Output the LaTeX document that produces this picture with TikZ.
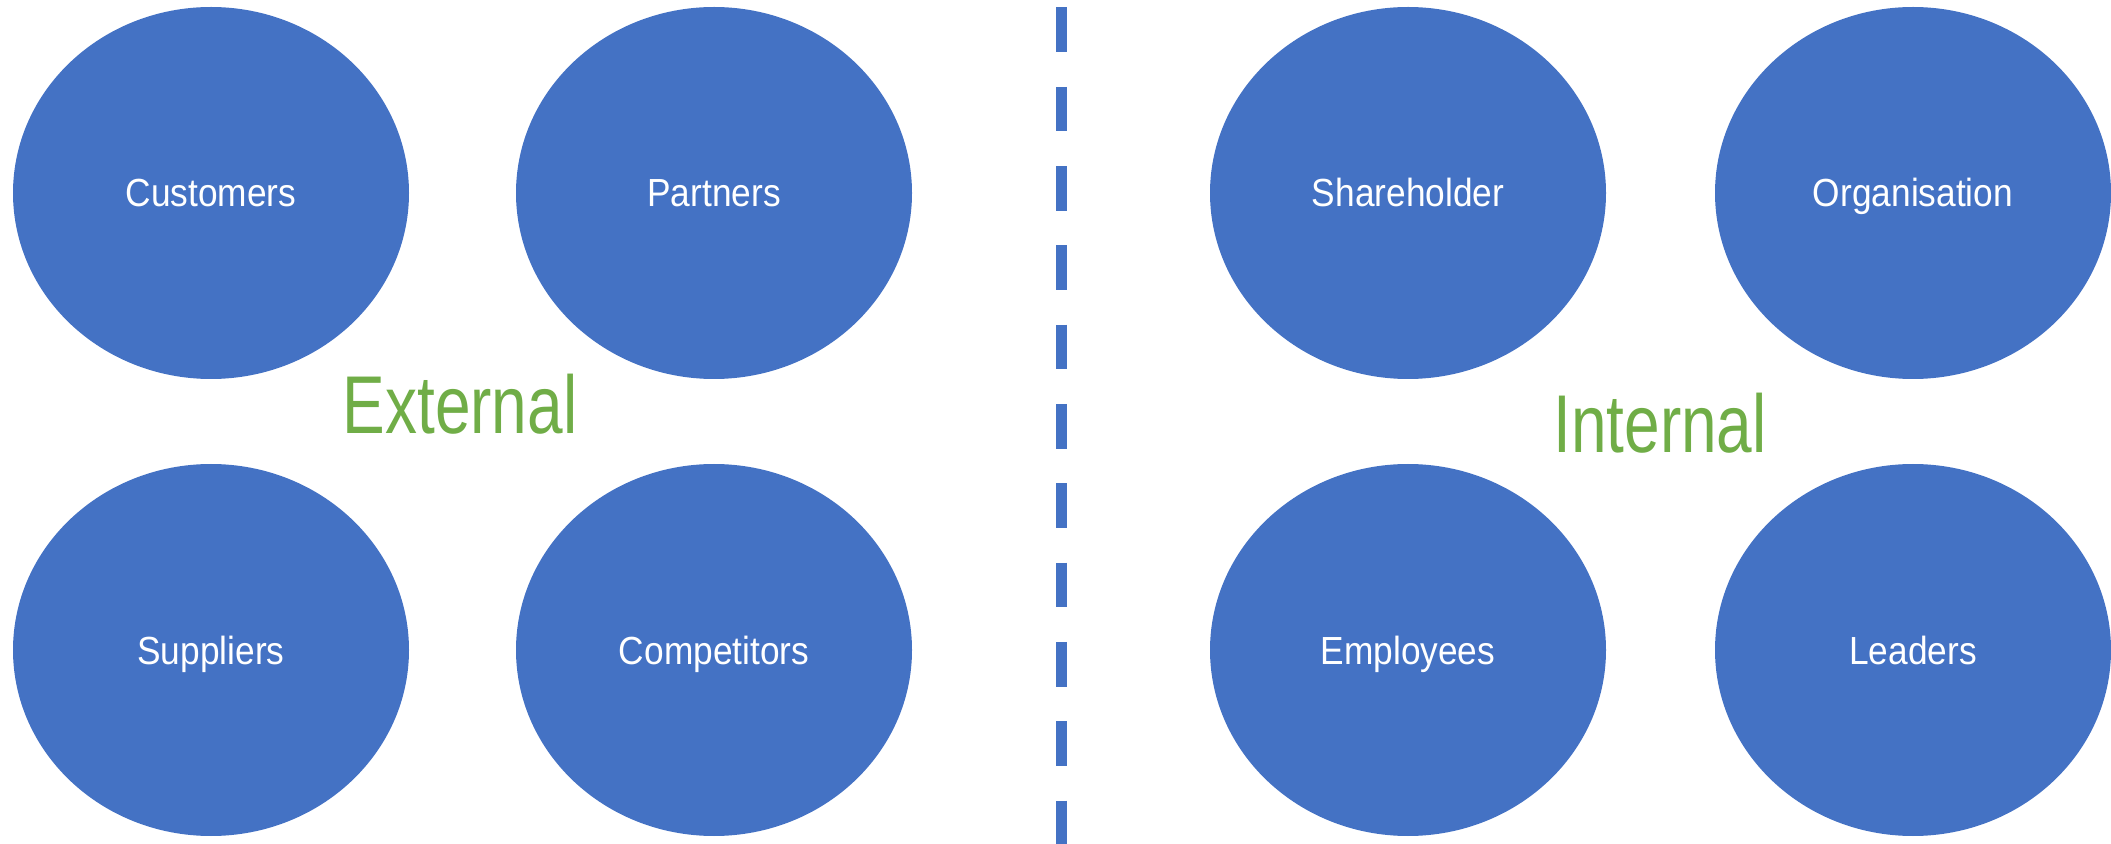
\documentclass[tikz,border=0pt]{standalone}
\usepackage{fontspec}
\setmainfont{Liberation Sans}
\newfontfamily\lblfont[FakeStretch=0.9]{Liberation Sans}
\newfontfamily\grpfont[FakeStretch=0.78]{Liberation Sans}
\usetikzlibrary{shapes.geometric}
\definecolor{bubbleblue}{HTML}{4472C4}
\definecolor{groupgreen}{HTML}{70AD47}
\tikzset{
  bubble/.style={ellipse,fill=bubbleblue,draw=none,inner sep=0pt,
    minimum width=198pt,minimum height=186pt,text=white,
    text height=18pt,text depth=4pt,
    font=\lblfont\fontsize{19.6}{22}\selectfont},
  group/.style={text=groupgreen,inner sep=0pt,anchor=base,
    font=\grpfont\fontsize{41}{44}\selectfont}
}
\begin{document}
\begin{tikzpicture}[x=0.5pt,y=-0.5pt]
  \useasboundingbox (0,0) rectangle (2111,844);
  % external side
  \node[bubble] (customers) at (211,193) {Customers};
  \node[bubble] (partners) at (714,193) {Partners};
  \node[bubble] (suppliers) at (211,650) {Suppliers};
  \node[bubble] (competitors) at (714,650) {Competitors};
  \node[group] (external) at (460,434) {External};
  % internal side
  \node[bubble] (shareholder) at (1408,193) {Shareholder};
  \node[bubble] (organisation) at (1913,193) {Organisation};
  \node[bubble] (employees) at (1408,650) {Employees};
  \node[bubble] (leaders) at (1913,650) {Leaders};
  \node[group] (internal) at (1660,453) {Internal};
  % divider
  \coordinate (divtop) at (1061.5,7.5);
  \coordinate (divbot) at (1061.5,844);
  \draw[bubbleblue,line width=5.5pt,dash pattern=on 22.35pt off 17.3pt] (divtop) -- (divbot);
\end{tikzpicture}
\end{document}
